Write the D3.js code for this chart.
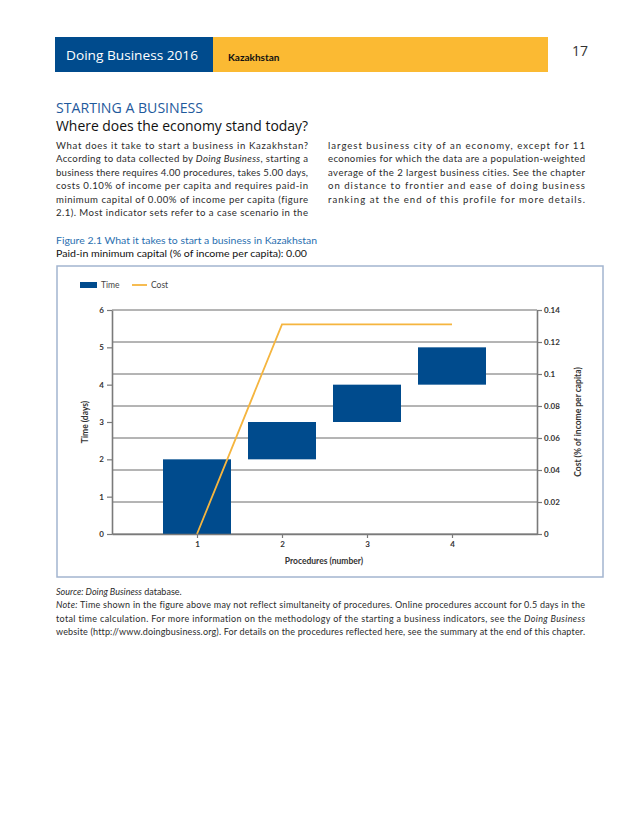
<!DOCTYPE html>
<html>
<head>
<meta charset="utf-8">
<script src="https://cdn.jsdelivr.net/npm/d3@7"></script>
<style>
  body { margin: 0; background: #fff; }
  svg { display: block; }
</style>
</head>
<body>
<svg id="page" width="638" height="826"></svg>
<script>
// Данные графика: процедуры, интервалы времени (дни) и накопленная стоимость.
const procedures = [1, 2, 3, 4];
const timeStart = [0, 2, 3, 4];
const timeEnd = [2, 3, 4, 5];
const costValues = [0, 0.131, 0.131, 0.131];
const timeTicks = [0, 1, 2, 3, 4, 5, 6];
const costTicks = [0, 0.02, 0.04, 0.06, 0.08, 0.1, 0.12, 0.14];

// Текст страницы построчно, курсив помечен отдельными кусками.
const leftLines = [
    [["What does it take to start a business in Kazakhstan?"]],
    [["According to data collected by "], ["Doing Business", 1], [", starting a"]],
    [["business there requires 4.00 procedures, takes 5.00 days,"]],
    [["costs 0.10% of income per capita and requires paid-in"]],
    [["minimum capital of 0.00% of income per capita (figure"]],
    [["2.1). Most indicator sets refer to a case scenario in the"]]
];
const rightLines = [
    [["largest business city of an economy, except for 11"]],
    [["economies for which the data are a population-weighted"]],
    [["average of the 2 largest business cities. See the chapter"]],
    [["on distance to frontier and ease of doing business"]],
    [["ranking at the end of this profile for more details."]]
];
const noteLines = [
    [["Note:", 1], [" Time shown in the figure above may not reflect simultaneity of procedures. Online procedures account for 0.5 days in the"]],
    [["total time calculation. For more information on the methodology of the starting a business indicators, see the "], ["Doing Business", 1]],
    [["website (http://www.doingbusiness.org). For details on the procedures reflected here, see the summary at the end of this chapter."]]
];

const blue = "#004b8d";
const gold = "#fbba33";
const costColor = "#f5b53f";
const bodyFont = "Lato, 'Open Sans', sans-serif";

const svg = d3.select("#page");
svg.append("rect").attr("width", 638).attr("height", 826).attr("fill", "#fff");

// Строка текста, растянутая на заданную ширину (выравнивание по ширине).
function addLine(x, y, parts, opts) {
    const t = svg.append("text")
        .attr("x", x)
        .attr("y", y)
        .style("font-family", opts.font || bodyFont)
        .style("font-size", opts.size + "px")
        .style("fill", opts.color || "#2b2b2b")
        .style("font-variant-ligatures", "none");

    if (opts.width) {
        t.attr("textLength", opts.width).attr("lengthAdjust", opts.adjust || "spacing");
    }

    for (let p of parts) {
        t.append("tspan")
            .style("font-style", p[1] ? "italic" : "normal")
            .text(p[0]);
    }
    return t;
}

// Шапка страницы
svg.append("rect").attr("x", 55).attr("y", 37).attr("width", 158).attr("height", 35).attr("fill", blue);
svg.append("rect").attr("x", 213).attr("y", 37).attr("width", 335).attr("height", 35).attr("fill", gold);
svg.append("text").attr("x", 66).attr("y", 60)
    .attr("textLength", 132).attr("lengthAdjust", "spacingAndGlyphs")
    .style("font-family", "'Open Sans', sans-serif").style("font-size", "13.5px")
    .style("fill", "#fff").text("Doing Business 2016");
svg.append("text").attr("x", 228).attr("y", 61)
    .style("font-family", bodyFont).style("font-size", "10px").style("font-weight", "bold")
    .style("fill", "#111").text("Kazakhstan");
svg.append("text").attr("x", 572).attr("y", 56)
    .style("font-family", "'Open Sans', sans-serif").style("font-size", "14px")
    .style("fill", "#333").text("17");

// Заголовки раздела
svg.append("text").attr("x", 56).attr("y", 113)
    .attr("textLength", 147).attr("lengthAdjust", "spacingAndGlyphs")
    .style("font-family", "'Open Sans', sans-serif").style("font-size", "14px")
    .style("fill", "#1f5a9c").text("STARTING A BUSINESS");
svg.append("text").attr("x", 56).attr("y", 131)
    .attr("textLength", 252).attr("lengthAdjust", "spacingAndGlyphs")
    .style("font-family", "'Open Sans', sans-serif").style("font-size", "14.5px")
    .style("fill", "#111").text("Where does the economy stand today?");

leftLines.forEach((parts, i) => {
    addLine(56, 149 + i * 13.4, parts, { size: 9.6, width: 252 });
});
rightLines.forEach((parts, i) => {
    addLine(328, 149 + i * 13.4, parts, { size: 9.6, width: 257 });
});

addLine(56, 244, [["Figure 2.1 What it takes to start a business in Kazakhstan"]],
    { size: 10.3, color: "#2a6fb0", width: 261, adjust: "spacingAndGlyphs" });
addLine(56, 257, [["Paid-in minimum capital (% of income per capita): 0.00"]],
    { size: 10.3, color: "#111", width: 251, adjust: "spacingAndGlyphs" });

// Рамка рисунка
svg.append("rect")
    .attr("x", 57).attr("y", 266).attr("width", 546).attr("height", 311)
    .attr("fill", "#fff").attr("stroke", "#a3b5cf").attr("stroke-width", 1.5);

// График
const chartFont = "Lato, 'DejaVu Sans', sans-serif";
const plot = { left: 112, right: 537, top: 310, bottom: 534 };

const scaleX = d3.scaleLinear().domain([0, 5]).range([plot.left, plot.right]);
const scaleTime = d3.scaleLinear().domain([0, 6]).range([plot.bottom, plot.top]);
const scaleCost = d3.scaleLinear().domain([0, 0.14]).range([plot.bottom, plot.top]);

const chart = svg.append("g");

// Сетка по правой оси
chart.selectAll(".grid")
    .data(costTicks)
    .enter()
    .append("line")
    .attr("class", "grid")
    .attr("x1", plot.left)
    .attr("x2", plot.right)
    .attr("y1", d => scaleCost(d))
    .attr("y2", d => scaleCost(d))
    .attr("stroke", "#6b6b6b")
    .attr("stroke-width", 1);

// Столбики времени
const barWidth = scaleX(0.8) - scaleX(0);
chart.selectAll(".bar")
    .data(procedures)
    .enter()
    .append("rect")
    .attr("class", "bar")
    .attr("x", (d, i) => scaleX(procedures[i]) - barWidth / 2)
    .attr("y", (d, i) => scaleTime(timeEnd[i]))
    .attr("width", barWidth)
    .attr("height", (d, i) => scaleTime(timeStart[i]) - scaleTime(timeEnd[i]))
    .attr("fill", blue);

// Линия стоимости
const line = d3.line()
    .x((d, i) => scaleX(procedures[i]))
    .y(d => scaleCost(d));

chart.append("path")
    .datum(costValues)
    .attr("fill", "none")
    .attr("stroke", costColor)
    .attr("stroke-width", 1.8)
    .attr("d", line);

function styleAxis(g) {
    g.select(".domain").attr("stroke", "#7a7a7a").attr("stroke-width", 1.6);
    g.selectAll(".tick line").attr("stroke", "#7a7a7a").attr("stroke-width", 1.2);
    g.selectAll(".tick text")
        .style("font-family", chartFont)
        .style("font-size", "8px")
        .style("font-weight", "bold")
        .style("fill", "#333");
}

const axisLeft = d3.axisLeft(scaleTime).tickValues(timeTicks).tickSize(5).tickPadding(3).tickSizeOuter(0)
    .tickFormat(d3.format("d"));
chart.append("g")
    .attr("transform", `translate(${plot.left},0)`)
    .call(axisLeft)
    .call(styleAxis);

const axisRight = d3.axisRight(scaleCost).tickValues(costTicks).tickSize(5).tickPadding(2).tickSizeOuter(0)
    .tickFormat(d => String(+d.toFixed(2)));
chart.append("g")
    .attr("transform", `translate(${plot.right},0)`)
    .call(axisRight)
    .call(styleAxis);

const axisBottom = d3.axisBottom(scaleX).tickValues(procedures).tickSize(4).tickPadding(3).tickSizeOuter(0)
    .tickFormat(d3.format("d"));
chart.append("g")
    .attr("transform", `translate(0,${plot.bottom})`)
    .call(axisBottom)
    .call(styleAxis);

// Подписи осей
function axisTitle(x, y, rotate, text) {
    chart.append("text")
        .attr("transform", `translate(${x},${y}) rotate(${rotate})`)
        .attr("text-anchor", "middle")
        .style("font-family", chartFont)
        .style("font-size", "8.5px")
        .style("font-weight", "bold")
        .style("fill", "#333")
        .text(text);
}
axisTitle(324, 564, 0, "Procedures (number)");
axisTitle(88, 422, -90, "Time (days)");
axisTitle(581, 422, -90, "Cost (% of income per capita)");

// Легенда
const legend = svg.append("g").attr("transform", "translate(80,285)");
legend.append("rect").attr("x", 0).attr("y", -3).attr("width", 17).attr("height", 6).attr("fill", blue);
legend.append("text").attr("x", 21).attr("y", 3)
    .style("font-family", chartFont).style("font-size", "8.5px").style("fill", "#444").text("Time");
legend.append("line").attr("x1", 52).attr("x2", 67).attr("y1", 0).attr("y2", 0)
    .attr("stroke", costColor).attr("stroke-width", 1.8);
legend.append("text").attr("x", 71).attr("y", 3)
    .style("font-family", chartFont).style("font-size", "8.5px").style("fill", "#444").text("Cost");

// Источник и примечание
addLine(56, 595, [["Source: Doing Business", 1], [" database."]], { size: 9 });
noteLines.forEach((parts, i) => {
    addLine(56, 608 + i * 13.6, parts, { size: 9, width: 529 });
});
</script>
</body>
</html>
